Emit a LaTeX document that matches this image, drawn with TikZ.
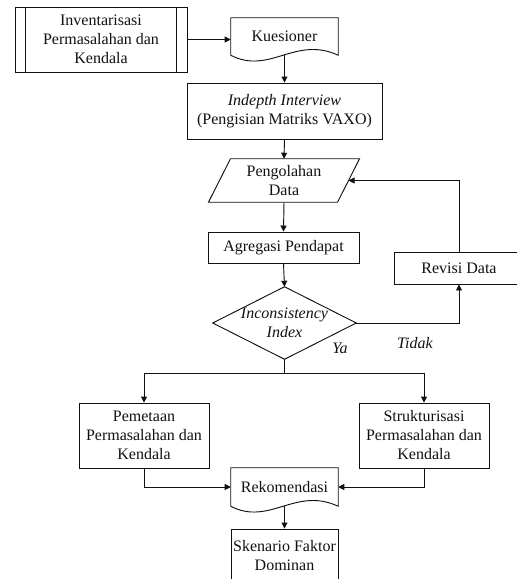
\documentclass[tikz,border=0pt]{standalone}
\usepackage{fontspec}
\setmainfont{Liberation Serif}
\usepackage{xcolor}
\usetikzlibrary{arrows.meta}
\definecolor{ink}{HTML}{111111}
\tikzset{
  base/.style={draw=ink, line width=0.7pt},
  txt/.style={rectangle, align=center, inner sep=1pt, text=ink,
    font=\fontsize{12}{14.25}\selectfont},
  box/.style={txt, base},
  flow/.style={base, -{Triangle[length=4.5pt,width=4.5pt]}},
  lbl/.style={inner sep=0pt, text=ink, font=\fontsize{12}{14.25}\selectfont\itshape}
}

\begin{document}
\begin{tikzpicture}[x=0.75pt, y=-0.75pt]
  \useasboundingbox (0,0) rectangle (517,579);
  \clip (0,0) rectangle (517,579);

  % top row
  \node[box, minimum width=129pt, minimum height=48.75pt] (inv) at (101,39.5)
    {Inventarisasi\\Permasalahan dan\\Kendala};
  \draw[base] ([xshift=8.25pt]inv.north west) -- ([xshift=8.25pt]inv.south west);
  \draw[base] ([xshift=-8.25pt]inv.north east) -- ([xshift=-8.25pt]inv.south east);

  \node[txt, minimum width=80.25pt, minimum height=27.75pt] (kues) at (284.5,36.5) {Kuesioner};
  \draw[base] (kues.south west) -- (kues.north west) -- (kues.north east) -- (kues.south east)
    .. controls +(-43,-20) and +(39,20) .. (kues.south west);

  % main column
  \node[box, minimum width=146.25pt, minimum height=42pt] (indepth) at (284.5,111)
    {\textit{Indepth Interview}\\(Pengisian Matriks VAXO)};

  \node[txt, minimum width=96.4pt, minimum height=32.25pt] (olah) at (284,180.5) {Pengolahan\\Data};
  \draw[base] ([xshift=8.25pt]olah.north west) -- ([xshift=8.25pt]olah.north east)
    -- ([xshift=-8.25pt]olah.south east) -- ([xshift=-8.25pt]olah.south west) -- cycle;

  \node[box, minimum width=113.25pt, minimum height=23.25pt] (agr) at (283.5,247.5) {Agregasi Pendapat};
  \node[box, minimum width=97.5pt, minimum height=24pt] (rev) at (459,268) {Revisi Data};

  \node[txt, minimum width=107.25pt, minimum height=54pt, font=\fontsize{12}{14.25}\selectfont\itshape]
    (dia) at (284.5,323) {Inconsistency\\Index};
  \draw[base] (dia.north) -- (dia.east) -- (dia.south) -- (dia.west) -- cycle;

  \node[lbl] (ya) at (340,348) {Ya};
  \node[lbl] (tidak) at (415,343) {Tidak};

  \coordinate (split) at (284.5,373);

  % bottom part
  \node[box, minimum width=97.5pt, minimum height=48.75pt] (pem) at (144,435.5)
    {Pemetaan\\Permasalahan dan\\Kendala};
  \node[box, minimum width=97.5pt, minimum height=48.75pt] (str) at (424,435.5)
    {Strukturisasi\\Permasalahan dan\\Kendala};

  \node[txt, minimum width=80.25pt, minimum height=28.5pt] (rek) at (284.5,487) {Rekomendasi};
  \draw[base] (rek.south west) -- (rek.north west) -- (rek.north east) -- (rek.south east)
    .. controls +(-43,-20) and +(39,20) .. (rek.south west);

  \node[box, minimum width=80.25pt, minimum height=39.75pt] (sk) at (284.5,555.5)
    {Skenario Faktor\\Dominan};

  % connectors
  \draw[flow] (inv.east) -- (inv.east -| kues.west);
  \draw[flow] (kues.south) -- (indepth.north);
  \draw[flow] (indepth.south) -- (olah.north);
  \draw[flow] (olah.south) -- (agr.north);
  \draw[flow] (agr.south) -- (dia.north);
  \draw[flow] (dia.east) -| (rev.south);
  \draw[flow] (rev.north) |- (olah.east);
  \draw[base] (dia.south) -- (split);
  \draw[flow] (split) -| (pem.north);
  \draw[flow] (split) -| (str.north);
  \draw[flow] (pem.south) |- (rek.west);
  \draw[flow] (str.south) |- (rek.east);
  \draw[flow] (rek.south) -- (sk.north);
\end{tikzpicture}
\end{document}
